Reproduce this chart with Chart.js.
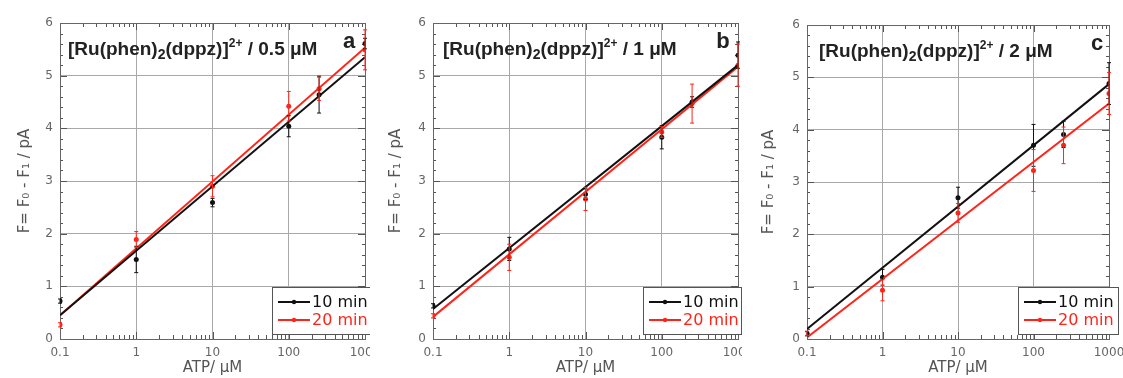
<!DOCTYPE html>
<html><head><meta charset="utf-8">
<script src="https://cdn.jsdelivr.net/npm/chart.js@4.4.0/dist/chart.umd.min.js"></script>
<style>
body{margin:0;background:#fff;width:1123px;height:378px;overflow:hidden;position:relative}
canvas{position:absolute;top:0}
</style></head><body>
<canvas id="ca" width="370" height="378" style="left:0px"></canvas>
<canvas id="cb" width="372" height="378" style="left:370px"></canvas>
<canvas id="cc" width="381" height="378" style="left:742px"></canvas>
<script>
// ---- data ----
const atpValues = [0.1, 1, 10, 100, 250, 1000];
const fitX = [0.1, 1000];
const xTickValues = [0.1, 1, 10, 100, 1000];
const yTickValues = [0, 1, 2, 3, 4, 5, 6];
const seriesLabels = ['10 min', '20 min'];

// panel a: 0.5 µM
const a10 = [0.72, 1.51, 2.59, 4.04, 4.64, 5.61];
const a10Err = [0.04, 0.25, 0.08, 0.2, 0.35, 0.1];
const a20 = [0.27, 1.89, 2.90, 4.42, 4.75, 5.49];
const a20Err = [0.04, 0.15, 0.2, 0.28, 0.22, 0.38];
const a10Fit = [0.45, 5.35];
const a20Fit = [0.45, 5.53];

// panel b: 1 µM
const b10 = [0.63, 1.71, 2.75, 3.83, 4.50, 5.39];
const b10Err = [0.04, 0.22, 0.1, 0.22, 0.1, 0.25];
const b20 = [0.44, 1.55, 2.66, 3.93, 4.47, 5.20];
const b20Err = [0.04, 0.25, 0.22, 0.1, 0.37, 0.4];
const b10Fit = [0.57, 5.20];
const b20Fit = [0.42, 5.17];

// panel c: 2 µM
const c10 = [0.10, 1.18, 2.70, 3.70, 3.91, 4.88];
const c10Err = [0.04, 0.15, 0.2, 0.4, 0.25, 0.4];
const c20 = [0.11, 0.93, 2.41, 3.22, 3.70, 4.69];
const c20Err = [0.04, 0.2, 0.18, 0.4, 0.35, 0.4];
const c10Fit = [0.19, 4.87];
const c20Fit = [0.03, 4.50];

const BLACK = '#111111';
const RED = '#ff2418';

function pts(xs, ys){ return xs.map((x,i)=>({x:x, y:ys[i]})); }

const errorBars = {
  id:'errorBars',
  afterDatasetsDraw(chart){
    const ctx = chart.ctx, xs = chart.scales.x, ys = chart.scales.y;
    chart.data.datasets.forEach(ds=>{
      if(!ds.err) return;
      ctx.save();
      ctx.strokeStyle = ds.borderColor; ctx.lineWidth = 1;
      ds.data.forEach((p,i)=>{
        const e = ds.err[i];
        const px = xs.getPixelForValue(p.x);
        const y1 = ys.getPixelForValue(p.y - e), y2 = ys.getPixelForValue(p.y + e);
        ctx.beginPath();
        ctx.moveTo(px, y1); ctx.lineTo(px, y2);
        ctx.moveTo(px-2, y1); ctx.lineTo(px+2, y1);
        ctx.moveTo(px-2, y2); ctx.lineTo(px+2, y2);
        ctx.stroke();
      });
      ctx.restore();
    });
  }
};

const frame = {
  id:'frame',
  beforeDatasetsDraw(chart){
    const ctx = chart.ctx, a = chart.chartArea, xs = chart.scales.x, ys = chart.scales.y;
    ctx.save();
    ctx.strokeStyle = '#555'; ctx.lineWidth = 1;
    ctx.beginPath();
    for(let d=0.1; d<999; d*=10){
      for(let k=1;k<=9;k++){
        const v = d*k; const px = Math.round(xs.getPixelForValue(v))+0.5;
        const L = k===1?7:4;
        ctx.moveTo(px,a.bottom); ctx.lineTo(px,a.bottom-L);
        ctx.moveTo(px,a.top); ctx.lineTo(px,a.top+L);
      }
    }
    for(let i=0;i<=30;i++){
      const v=i*0.2; const py = Math.round(ys.getPixelForValue(v))+0.5;
      const L = (i%5===0)?7:3;
      ctx.moveTo(a.left,py); ctx.lineTo(a.left+L,py);
      ctx.moveTo(a.right,py); ctx.lineTo(a.right-L,py);
    }
    ctx.stroke();
    ctx.strokeStyle = '#666';
    ctx.strokeRect(Math.round(a.left)+0.5, Math.round(a.top)+0.5, Math.round(a.right-a.left), Math.round(a.bottom-a.top));
    ctx.restore();
  }
};

const overlay = {
  id:'overlay',
  afterDraw(chart){
    const o = chart.options.plugins.overlay;
    const ctx = chart.ctx, a = chart.chartArea;
    ctx.save();
    // annotation text
    let x = a.left + o.textDx, y = a.top + 32;
    ctx.fillStyle = '#222'; ctx.textBaseline = 'alphabetic';
    o.parts.forEach(p=>{
      let dy = 0;
      if(p.m==='sub'){ ctx.font = 'bold 14px "Liberation Sans", Arial, sans-serif'; dy = 4; }
      else if(p.m==='sup'){ ctx.font = 'bold 12px "Liberation Sans", Arial, sans-serif'; dy = -8; }
      else { ctx.font = 'bold 19px "Liberation Sans", Arial, sans-serif'; }
      ctx.fillText(p.t, x, y+dy);
      x += ctx.measureText(p.t).width;
    });
    ctx.font = 'bold 22px "Liberation Sans", Arial, sans-serif';
    ctx.textAlign = 'center';
    ctx.fillText(o.letter, a.right + o.letterDx, a.top + 25);
    ctx.textAlign = 'left';
    // legend box
    const bx = a.right - o.boxW + o.boxR, by = a.bottom - 52;
    ctx.fillStyle = '#fff'; ctx.fillRect(bx, by, o.boxW, 47);
    ctx.strokeStyle = '#555'; ctx.lineWidth = 1;
    ctx.strokeRect(Math.round(bx)+0.5, Math.round(by)+0.5, o.boxW, 47);
    const cols = [BLACK, RED];
    seriesLabels.forEach((lab,i)=>{
      const ly = by + 15 + i*18;
      ctx.strokeStyle = cols[i]; ctx.lineWidth = 2;
      ctx.beginPath(); ctx.moveTo(bx+6, ly); ctx.lineTo(bx+38, ly); ctx.stroke();
      ctx.fillStyle = cols[i];
      ctx.beginPath(); ctx.arc(bx+22, ly, 2.2, 0, Math.PI*2); ctx.fill();
      ctx.font = '16px "DejaVu Sans", sans-serif'; ctx.textBaseline = 'middle';
      ctx.fillText(lab, bx+40, ly+1);
    });
    ctx.restore();
  }
};

function makeChart(id, s10, e10, s20, e20, f10, f20, cfg){
  return new Chart(document.getElementById(id), {
    type:'scatter',
    data:{datasets:[
      {label:seriesLabels[0]+' fit', type:'line', data:pts(fitX,f10), borderColor:BLACK, borderWidth:2, pointRadius:0, fill:false},
      {label:seriesLabels[1]+' fit', type:'line', data:pts(fitX,f20), borderColor:RED, borderWidth:2, pointRadius:0, fill:false},
      {label:seriesLabels[0], data:pts(atpValues,s10), err:e10, borderColor:BLACK, backgroundColor:BLACK, pointRadius:2.5, pointBorderWidth:0},
      {label:seriesLabels[1], data:pts(atpValues,s20), err:e20, borderColor:RED, backgroundColor:RED, pointRadius:2.5, pointBorderWidth:0}
    ]},
    options:{
      responsive:false, animation:false,
      layout:{padding:{top:cfg.top, right:cfg.right, left:0, bottom:0}},
      plugins:{legend:{display:false}, tooltip:{enabled:false}, overlay:cfg.overlay},
      scales:{
        x:{type:'logarithmic', min:0.1, max:1000,
          afterBuildTicks(s){ s.ticks = xTickValues.map(v=>({value:v, major:true})); },
          afterFit(s){ s.height = 39; s.paddingLeft = 0; s.paddingRight = 0; },
          grid:{color:'#a8a8a8', lineWidth:1, drawTicks:false},
          border:{display:false},
          ticks:{padding:7, color:'#666', maxRotation:0, autoSkip:false,
            font:{family:'"DejaVu Sans", sans-serif', size:12},
            callback:(v)=>String(v)},
          title:{display:true, text:'ATP/ μM', color:'#555', padding:{top:0,bottom:1},
            font:{family:'"DejaVu Sans", sans-serif', size:15}}
        },
        y:{min:0, max:6,
          afterBuildTicks(s){ s.ticks = yTickValues.map(v=>({value:v})); },
          afterFit(s){ s.width = cfg.yw; s.paddingTop = 0; s.paddingBottom = 0; },
          grid:{color:'#a8a8a8', lineWidth:1, drawTicks:false},
          border:{display:false},
          ticks:{padding:7, color:'#666', font:{family:'"DejaVu Sans", sans-serif', size:12}},
          title:{display:true, text:'F= F₀ - F₁ / pA', color:'#555', padding:{top:cfg.titlePad, bottom:0},
            font:{family:'"DejaVu Sans", sans-serif', size:15}}
        }
      }
    },
    plugins:[frame, errorBars, overlay]
  });
}

const annot = (conc)=>[{t:'[Ru(phen)'},{t:'2',m:'sub'},{t:'(dppz)]'},{t:'2+',m:'sup'},{t:' / '+conc}];

makeChart('ca', a10, a10Err, a20, a20Err, a10Fit, a20Fit,
  {top:23, right:5, yw:60, titlePad:16,
   overlay:{parts:annot('0.5 μM'), letter:'a', textDx:8, letterDx:-16, boxW:98, boxR:5}});
makeChart('cb', b10, b10Err, b20, b20Err, b10Fit, b20Fit,
  {top:23, right:3, yw:63, titlePad:17,
   overlay:{parts:annot('1 μM'), letter:'b', textDx:10, letterDx:-15, boxW:98, boxR:3}});
makeChart('cc', c10, c10Err, c20, c20Err, c10Fit, c20Fit,
  {top:25, right:14, yw:65, titlePad:18,
   overlay:{parts:annot('2 μM'), letter:'c', textDx:12, letterDx:-12, boxW:100, boxR:9}});
</script>
</body></html>
